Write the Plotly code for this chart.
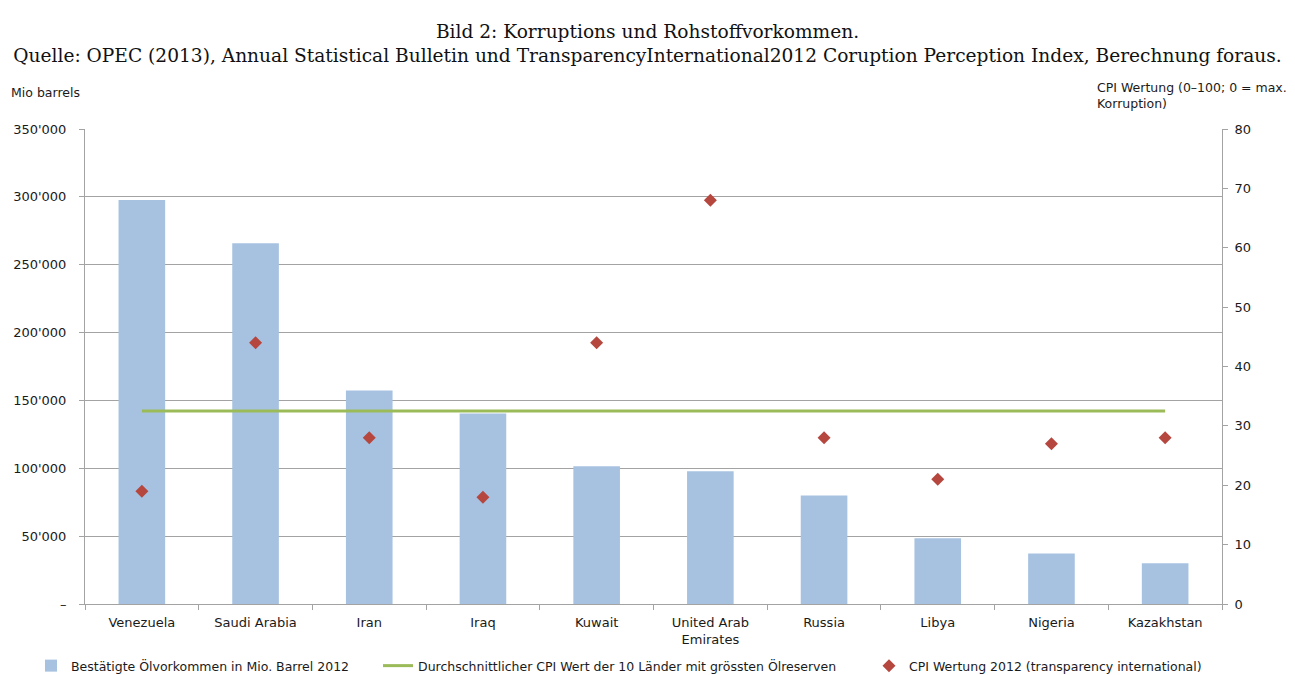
import plotly.graph_objects as go

countries = ["Venezuela", "Saudi Arabia", "Iran", "Iraq", "Kuwait",
             "United Arab<br>Emirates", "Russia", "Libya", "Nigeria", "Kazakhstan"]
reserves = [297735, 265850, 157300, 140300, 101500, 97800, 80000, 48472, 37139, 30000]
cpi = [19, 44, 28, 18, 44, 68, 28, 21, 27, 28]
cpi_avg = [32.5] * 10

left_tickvals = [0, 50000, 100000, 150000, 200000, 250000, 300000, 350000]
left_ticktext = ["–", "50'000", "100'000", "150'000", "200'000", "250'000", "300'000", "350'000"]
right_tickvals = [0, 10, 20, 30, 40, 50, 60, 70, 80]

FONT = "DejaVu Sans"
GRID = "#A3A3A3"
TXT = "#1a1a1a"

# plot area in pixels
L, R, T, B = 85, 1222, 129, 604
PW, PH = R - L, B - T

def px_x(px):
    return (px - L) / PW

def px_y(py):
    return (B - py) / PH

fig = go.Figure()
fig.add_trace(go.Bar(
    x=countries, y=reserves, width=0.41,
    marker=dict(color="#A7C2E1", line=dict(width=0)),
    name="Bestätigte Ölvorkommen in Mio. Barrel 2012",
    legend="legend",
))
fig.add_trace(go.Scatter(
    x=countries, y=cpi_avg, yaxis="y2", mode="lines",
    line=dict(color="#9BBB59", width=3),
    name="Durchschnittlicher CPI Wert der 10 Länder mit grössten Ölreserven",
    legend="legend2",
))
fig.add_trace(go.Scatter(
    x=countries, y=cpi, yaxis="y2", mode="markers",
    marker=dict(symbol="diamond", size=10, color="#B5473F"),
    name="CPI Wertung 2012 (transparency international)",
    legend="legend3",
))

legend_common = dict(orientation="h", yanchor="middle", y=px_y(666), xanchor="left",
                     font=dict(family=FONT, size=12.5, color=TXT),
                     bgcolor="rgba(0,0,0,0)", itemwidth=30)
fig.update_layout(
    width=1295, height=675,
    margin=dict(l=L, r=1295 - R, t=T, b=675 - B, autoexpand=False),
    paper_bgcolor="white", plot_bgcolor="white",
    title=dict(
        text="Bild 2: Korruptions und Rohstoffvorkommen.<br>Quelle: OPEC (2013), Annual Statistical Bulletin und TransparencyInternational2012 Coruption Perception Index, Berechnung foraus.",
        x=0.5, xanchor="center", xref="container", y=1 - 38 / 675, yanchor="top", yref="container",
        font=dict(family="DejaVu Serif", size=18.6, color="#111111"),
    ),
    xaxis=dict(
        type="category", showgrid=False, showline=True, linecolor=GRID, linewidth=1,
        ticks="outside", tickson="boundaries", ticklen=5, tickcolor=GRID,
        tickfont=dict(family=FONT, size=13, color=TXT), ticklabelstandoff=6,
        range=[-0.5, 9.5],
    ),
    yaxis=dict(
        range=[0, 350000], tickvals=left_tickvals, ticktext=left_ticktext,
        showgrid=True, gridcolor=GRID, gridwidth=1,
        showline=True, linecolor=GRID, linewidth=1,
        ticks="outside", ticklen=5, tickcolor=GRID,
        tickfont=dict(family=FONT, size=13, color=TXT), ticklabelstandoff=10,
        zeroline=False,
    ),
    yaxis2=dict(
        range=[0, 80], tickvals=right_tickvals, overlaying="y", side="right",
        showgrid=False, showline=True, linecolor=GRID, linewidth=1,
        ticks="outside", ticklen=5, tickcolor=GRID,
        tickfont=dict(family=FONT, size=13, color=TXT), ticklabelstandoff=4,
        zeroline=False,
    ),
    legend=dict(legend_common, x=px_x(31)),
    legend2=dict(legend_common, x=px_x(378)),
    legend3=dict(legend_common, x=px_x(869)),
    showlegend=True,
    annotations=[
        dict(text="Mio barrels", xref="paper", yref="paper", x=px_x(9), y=px_y(93),
             xanchor="left", yanchor="middle", showarrow=False,
             font=dict(family=FONT, size=12.5, color=TXT)),
        dict(text="CPI Wertung (0–100; 0 = max.<br>Korruption)", xref="paper", yref="paper",
             x=px_x(1095), y=px_y(96), xanchor="left", yanchor="middle",
             align="left", showarrow=False,
             font=dict(family=FONT, size=12.5, color=TXT)),
    ],
)

fig.write_html("out.html", config={"displayModeBar": False},
               post_script="document.body.style.margin='0';")
